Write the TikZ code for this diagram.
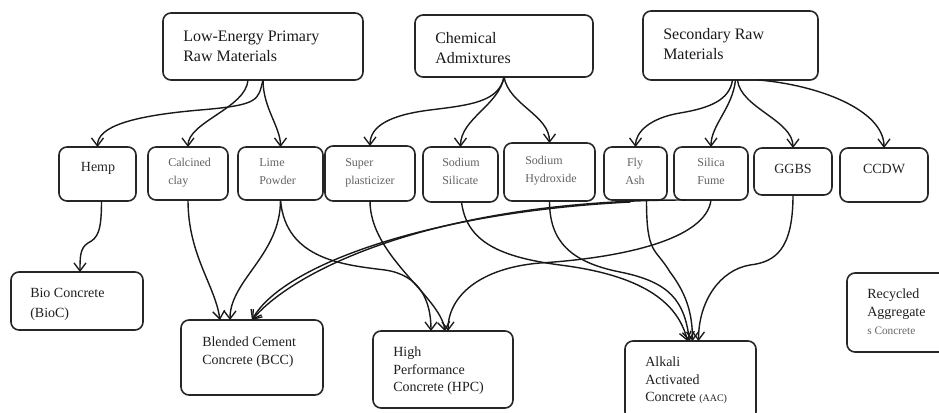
\documentclass[tikz,border=0pt]{standalone}
\usepackage{fontspec}
\setmainfont{Liberation Serif}
\usetikzlibrary{arrows.meta,calc}
\tikzset{
  box/.style={draw=black!85, line width=1.2pt, rounded corners=6pt, inner sep=0pt, outer sep=0pt},
  conn/.style={draw=black!90, line width=1.05pt, -{Straight Barb[length=6pt,width=9pt,line width=1pt]}},
  bigtxt/.style={font=\fontsize{12}{15}\selectfont, align=left, anchor=north west, inner sep=0pt, text=black!90},
  smalltxt/.style={font=\fontsize{9}{13.5}\selectfont, align=left, anchor=north west, inner sep=0pt, text=black!62},
  midtxt/.style={font=\fontsize{10.5}{13.5}\selectfont, align=left, anchor=north west, inner sep=0pt, text=black!88},
  labtxt/.style={font=\fontsize{10.5}{12}\selectfont, inner sep=0pt, text=black!85}
}
\newcommand\bx[5]{\node[box, minimum width={(#4-#2)*0.75pt}, minimum height={(#5-#3)*0.75pt}] (#1) at ({(#2+#4)/2},{(#3+#5)/2}) {};}
\begin{document}
\begin{tikzpicture}[x=0.75pt,y=-0.75pt]
\useasboundingbox (0,0) rectangle (939,412);
% boxes
\bx{le}{163}{13}{363}{80}
\bx{chem}{415}{15}{593}{77}
\bx{sec}{643}{11}{818}{80}
\bx{hemp}{59}{147}{136}{201}
\bx{cclay}{148}{147}{228}{200}
\bx{lime}{238}{147}{323}{200}
\bx{superp}{325}{146}{415}{201}
\bx{nasi}{423}{147}{498}{202}
\bx{naoh}{504}{143}{595}{201}
\bx{fly}{604}{147}{667}{200}
\bx{silica}{674}{147}{748}{200}
\bx{ggbs}{754}{148}{832}{195}
\bx{ccdw}{840}{148}{928}{202}
\bx{bio}{11}{272}{143}{330}
\bx{bcc}{181}{320}{323}{395}
\bx{hpc}{373}{331}{513}{408}
\bx{aac}{625}{341}{756}{420}
\bx{rac}{847}{273}{952}{352}
% texts
\node[bigtxt] (leT) at (183,31) {Low-Energy Primary\\Raw Materials};
\node[bigtxt] (chemT) at (435,32) {Chemical\\Admixtures};
\node[bigtxt] (secT) at (663,28) {Secondary Raw\\Materials};
\node[labtxt] (hempT) at (98,168) {Hemp};
\node[smalltxt] (cclayT) at (168,158) {Calcined\\clay};
\node[smalltxt] (limeT) at (259,158) {Lime\\Powder};
\node[smalltxt] (superT) at (345,158) {Super\\plasticizer};
\node[smalltxt] (nasiT) at (442,158) {Sodium\\Silicate};
\node[smalltxt] (naohT) at (525,156) {Sodium\\Hydroxide};
\node[smalltxt, align=center, anchor=north] (flyT) at (635,158) {Fly\\Ash};
\node[smalltxt, align=center, anchor=north] (silicaT) at (711,158) {Silica\\Fume};
\node[labtxt] (ggbsT) at (793,169) {GGBS};
\node[labtxt] (ccdwT) at (884,169) {CCDW};
\node[midtxt, font=\fontsize{10.5}{15}\selectfont] (bioT) at (30,288) {Bio Concrete\\(BioC)};
\node[midtxt] (bccT) at (202,337) {Blended Cement\\Concrete (BCC)};
\node[midtxt, font=\fontsize{10.5}{13}\selectfont] (hpcT) at (393,347) {High\\Performance\\Concrete (HPC)};
\node[midtxt, font=\fontsize{10.5}{13}\selectfont] (aacT) at (645,357) {Alkali\\Activated\\Concrete {\fontsize{7.5}{9}\selectfont (AAC)}};
\node[midtxt] (racT) at (867,289) {Recycled\\Aggregate\\{\fontsize{8.5}{9}\selectfont\color{black!60}s Concrete}};
% top connectors
\draw[conn] (le.south) .. controls +(-5,20) and +(60,-5) .. (200,110) .. controls +(-70,6) and +(0,-20) .. (hemp.north);
\draw[conn] ($(le.south)+(-15,0)$) .. controls +(-2,28) and +(0,-25) .. (cclay.north);
\draw[conn] (le.south) .. controls +(0,28) and +(0,-20) .. (lime.north);
\draw[conn] (chem.south) .. controls +(-5,25) and +(40,-5) .. (430,110) .. controls +(-40,5) and +(0,-20) .. (superp.north);
\draw[conn] (chem.south) .. controls +(-5,28) and +(0,-28) .. (nasi.north);
\draw[conn] (chem.south) .. controls +(5,28) and +(0,-28) .. (naoh.north);
\draw[conn] ($(sec.south)+(2,0)$) .. controls +(-3,20) and +(30,-5) .. (680,113) .. controls +(-30,5) and +(0,-15) .. (fly.north);
\draw[conn] ($(sec.south)+(5,0)$) .. controls +(-3,28) and +(0,-22) .. (silica.north);
\draw[conn] ($(sec.south)+(7,0)$) .. controls +(3,28) and +(0,-28) .. (ggbs.north);
\draw[conn] ($(sec.south)+(28,0)$) .. controls +(60,5) and +(0,-38) .. (ccdw.north);
% lower connectors
\draw[conn] ($(hemp.south)+(4,0)$) .. controls +(0,30) and +(10,-5) .. (88,243) .. controls +(-8,5) and +(0,-15) .. ($(bio.north)+(3,0)$);
\draw[conn] (cclay.south) .. controls +(0,55) and +(-5,-35) .. ($(bcc.north)+(-32,0)$);
\draw[conn] (lime.south) .. controls +(0,55) and +(0,-40) .. ($(bcc.north)+(-22,0)$);
\draw[conn] (lime.south) .. controls +(5,60) and +(-40,-5) .. (385,270) .. controls +(35,5) and +(0,-30) .. ($(hpc.north)+(-12,0)$);
\draw[conn] (superp.south) .. controls +(0,55) and +(-5,-35) .. ($(hpc.north)+(2,0)$);
\draw[conn] (silica.south) .. controls +(-5,40) and +(80,-5) .. (540,263) .. controls +(-60,5) and +(0,-35) .. ($(hpc.north)+(5,0)$);
\draw[conn] ($(silica.south)+(-25,0)$) .. controls +(-250,0) and +(42,-50) .. (bcc.north);
\draw[conn] ($(fly.south)+(-5,2)$) .. controls +(-200,10) and +(30,-55) .. (bcc.north);
\draw[conn] ($(nasi.south)+(1,0)$) .. controls +(5,40) and +(-60,-8) .. (560,265) .. controls +(80,10) and +(-10,-40) .. ($(aac.north)+(-3,0)$);
\draw[conn] (naoh.south) .. controls +(0,40) and +(-50,-10) .. (620,272) .. controls +(50,10) and +(-5,-40) .. ($(aac.north)+(-1,0)$);
\draw[conn] ($(fly.south)+(11,0)$) .. controls +(0,55) and +(-15,-25) .. (670,272) .. controls +(15,20) and +(0,-30) .. ($(aac.north)+(2,0)$);
\draw[conn] (ggbs.south) .. controls +(0,55) and +(25,-3) .. (750,265) .. controls +(-30,5) and +(0,-40) .. ($(aac.north)+(8,0)$);
\end{tikzpicture}
\end{document}
